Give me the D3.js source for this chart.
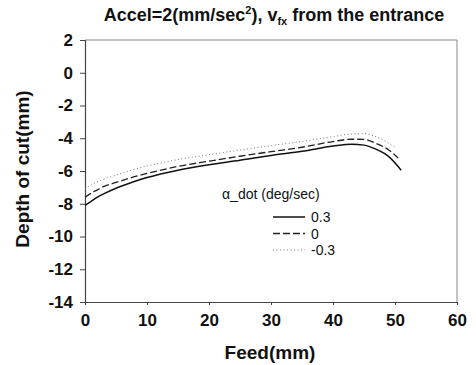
<!DOCTYPE html>
<html>
<head>
<meta charset="utf-8">
<script src="https://cdn.jsdelivr.net/npm/d3@7/dist/d3.min.js"></script>
<style>
  html, body { margin: 0; padding: 0; background: #fff; }
  svg { display: block; font-family: Arial, "Liberation Sans", sans-serif; }
</style>
</head>
<body>
<svg id="chart" width="476" height="365"></svg>
<script>
// Feed positions (mm) at which the depth of cut was sampled
const feedPos = [0, 1, 2, 3, 5, 7.5, 10, 15, 20, 25, 30, 35, 40, 43, 45, 47, 49, 51];
const feedPosDashed = [0, 1, 2, 3, 5, 7.5, 10, 15, 20, 25, 30, 35, 40, 43, 45, 47, 49, 50.5];
const feedPosDotted = [0, 1, 2, 3, 5, 7.5, 10, 15, 20, 25, 30, 35, 40, 43, 45, 47, 49, 50];

// Depth of cut (mm) for each alpha_dot setting
const depthPos03 = [-8.1, -7.85, -7.6, -7.4, -7.05, -6.7, -6.4, -5.95, -5.62, -5.35, -5.05, -4.8, -4.48, -4.36, -4.42, -4.68, -5.12, -5.95];
const depthZero  = [-7.6, -7.35, -7.15, -6.95, -6.7, -6.4, -6.15, -5.72, -5.4, -5.1, -4.82, -4.55, -4.2, -4.06, -4.07, -4.32, -4.72, -5.2];
const depthNeg03 = [-7.1, -6.85, -6.65, -6.5, -6.25, -5.95, -5.7, -5.3, -5.0, -4.72, -4.45, -4.2, -3.9, -3.74, -3.72, -3.92, -4.3, -4.55];

const seriesLabels = ["0.3", "0", "-0.3"];
const xTicks = [0, 10, 20, 30, 40, 50, 60];
const yTicks = [2, 0, -2, -4, -6, -8, -10, -12, -14];

const series = [
  { label: seriesLabels[0], xs: feedPos, ys: depthPos03, dash: null, width: 1.5, color: "#111" },
  { label: seriesLabels[1], xs: feedPosDashed, ys: depthZero, dash: "7,3", width: 1.3, color: "#222" },
  { label: seriesLabels[2], xs: feedPosDotted, ys: depthNeg03, dash: "1,2.5", width: 1, color: "#777" }
];

const svg = d3.select("#chart");
const plotLeft = 85, plotRight = 457, plotTop = 40, plotBottom = 302;

const x = d3.scaleLinear().domain([0, 60]).range([plotLeft, plotRight]);
const y = d3.scaleLinear().domain([-14, 2]).range([plotBottom, plotTop]);

// plain hyphen for negative numbers
const fmt = d => String(d);

// plot frame (top and right edges)
svg.append("path")
  .attr("d", `M${plotLeft},${plotTop}H${plotRight}V${plotBottom}`)
  .attr("fill", "none").attr("stroke", "#888").attr("stroke-width", 1);

// y axis
const yAxis = svg.append("g").attr("transform", `translate(${plotLeft},0)`)
  .call(d3.axisLeft(y).tickValues(yTicks).tickSize(5).tickPadding(7).tickFormat(fmt));
// x axis
const xAxis = svg.append("g").attr("transform", `translate(0,${plotBottom})`)
  .call(d3.axisBottom(x).tickValues(xTicks).tickSize(3).tickPadding(9).tickFormat(fmt));

[yAxis, xAxis].forEach(g => {
  g.select(".domain").attr("stroke", "#444").attr("stroke-width", 1.2);
  g.selectAll(".tick line").attr("stroke", "#444");
  g.selectAll("text").attr("fill", "#111").attr("font-size", 17)
    .attr("font-family", "Arial, 'Liberation Sans', sans-serif").attr("font-weight", "bold");
});

// curves
const line = d3.line().curve(d3.curveMonotoneX);
series.forEach(s => {
  const pts = s.xs.map((v, i) => [x(v), y(s.ys[i])]);
  svg.append("path")
    .attr("d", line(pts))
    .attr("fill", "none")
    .attr("stroke", s.color)
    .attr("stroke-width", s.width)
    .attr("stroke-dasharray", s.dash);
});

// legend
const legend = svg.append("g");
legend.append("text")
  .attr("x", 222).attr("y", 199)
  .attr("font-size", 14).attr("fill", "#111")
  .text("α_dot (deg/sec)");
series.forEach((s, i) => {
  const ly = 217 + i * 16.5;
  legend.append("line")
    .attr("x1", 273).attr("x2", 305).attr("y1", ly).attr("y2", ly)
    .attr("stroke", s.color).attr("stroke-width", s.width)
    .attr("stroke-dasharray", s.dash);
  legend.append("text")
    .attr("x", 311).attr("y", ly + 5)
    .attr("font-size", 14).attr("fill", "#111")
    .text(s.label);
});

// title
const title = svg.append("text")
  .attr("x", 274).attr("y", 21)
  .attr("text-anchor", "middle")
  .attr("font-size", 18).attr("font-weight", "bold").attr("fill", "#111");
title.append("tspan").text("Accel=2(mm/sec");
title.append("tspan").attr("font-size", 11).attr("dy", -7).text("2");
title.append("tspan").attr("dy", 7).text("), v");
title.append("tspan").attr("font-size", 11).attr("dy", 4).text("fx");
title.append("tspan").attr("dy", -4).text(" from the entrance");

// axis titles
svg.append("text")
  .attr("x", 270).attr("y", 359)
  .attr("text-anchor", "middle")
  .attr("font-size", 19).attr("font-weight", "bold").attr("fill", "#111")
  .text("Feed(mm)");
svg.append("text")
  .attr("transform", "translate(29,169) rotate(-90)")
  .attr("text-anchor", "middle")
  .attr("font-size", 19).attr("font-weight", "bold").attr("fill", "#111")
  .text("Depth of cut(mm)");
</script>
</body>
</html>
